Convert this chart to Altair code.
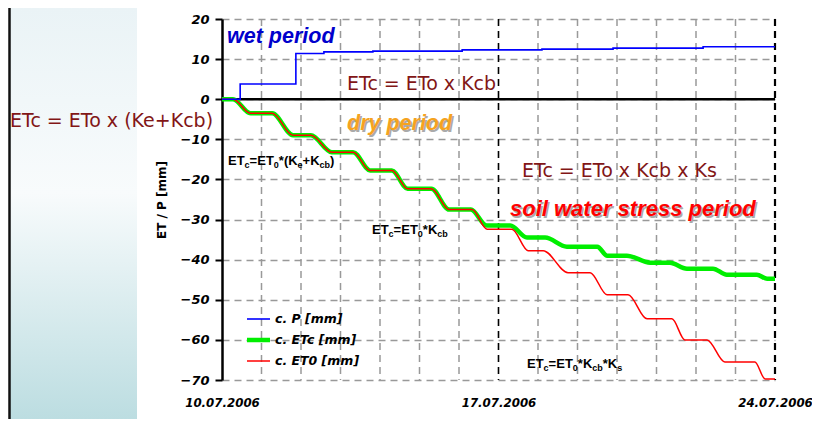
import altair as alt
import pandas as pd

# ---------------- data ----------------
# x = days since 10.07.2006
days_P = [0, 0.46, 1.87, 2.58, 3.82, 6.08, 8.1, 9.9, 12.18, 14]
vals_P = [0, 3.8, 11.4, 11.8, 12.0, 12.3, 12.5, 12.75, 13.1, 13.1]

days_ETc = [0, 0.28, 0.72, 1.27, 1.8, 2.25, 2.78, 3.32, 3.75, 4.3, 4.7, 5.3, 5.75, 6.3, 6.7,
            7.3, 7.72, 8.18, 8.73, 9.5, 9.75, 10.25, 10.84, 11.34, 11.77, 12.43, 12.78, 13.54, 13.8, 14]
vals_ETc = [0, 0, -3.5, -3.5, -9, -9, -13.2, -13.2, -17.75, -17.75, -22.3, -22.3, -27.5, -27.5, -31.5,
            -31.5, -34.5, -34.5, -36.75, -36.75, -39, -39, -40.75, -40.75, -42.25, -42.25, -43.75, -43.75, -44.75, -44.75]

days_ET0 = [0, 0.28, 0.72, 1.27, 1.8, 2.25, 2.78, 3.32, 3.75, 4.3, 4.7, 5.3, 5.75, 6.33, 6.71,
            7.34, 7.75, 8.13, 8.76, 9.32, 9.75, 10.28, 10.76, 11.39, 11.72, 12.28, 12.73, 13.49, 13.75, 14]
vals_ET0 = [0, 0, -3.5, -3.5, -9, -9, -13.2, -13.2, -17.75, -17.75, -22.3, -22.3, -27.5, -27.5, -32.4,
            -32.4, -37.75, -37.75, -43.25, -43.25, -48.75, -48.75, -54.75, -54.75, -60, -60, -65.5, -65.5, -69.75, -69.75]

series_names = ["c. P [mm]", "c. ETc [mm]", "c. ET0 [mm]"]
series_colors = ["#0000ff", "#00ee00", "#ff0000"]

x_grid_days = list(range(1, 14))
x_tick_days = [0, 7, 14]
x_tick_labels = ["10.07.2006", "17.07.2006", "24.07.2006"]
week_days = [7, 14]
y_ticks = [-70, -60, -50, -40, -30, -20, -10, 0, 10, 20]

W, H = 553, 361
BOLD_FONT = "Liberation Sans"
WIDE_FONT = "DejaVu Sans"
EQ_FONT = "DejaVu Sans"

df_P = pd.DataFrame({"day": days_P, "value": vals_P})
df_ETc = pd.DataFrame({"day": days_ETc, "value": vals_ETc})
df_ET0 = pd.DataFrame({"day": days_ET0, "value": vals_ET0})
df_grid = pd.DataFrame({"day": [d for d in x_grid_days if d not in week_days]})

label_expr = " : ".join(f"datum.value == {d} ? '{l}'" for d, l in zip(x_tick_days, x_tick_labels)) + " : ''"

x_enc = alt.X("day:Q", scale=alt.Scale(domain=[0, 14], nice=False, zero=False),
              axis=alt.Axis(values=x_tick_days, labelExpr=label_expr, grid=False, ticks=False, domain=False,
                            labelFont=WIDE_FONT, labelFontWeight="bold", labelFontStyle="italic",
                            labelFontSize=11.8, labelColor="black", labelPadding=17,
                            labelFlush=False, labelOverlap=False, labelBound=False, title=None))
y_enc = alt.Y("value:Q", scale=alt.Scale(domain=[-70, 20], nice=False, zero=False),
              axis=alt.Axis(values=y_ticks, grid=True, gridDash=[7, 5], gridColor="#999999",
                            gridWidth=1.5, domainColor="black", domainWidth=2.5, tickColor="black",
                            tickWidth=2, tickSize=7, labelFont=WIDE_FONT, labelFontWeight="bold",
                            labelFontStyle="italic", labelFontSize=13, labelColor="black",
                            labelPadding=6, title="ET / P [mm]", titleFont=WIDE_FONT,
                            titleFontWeight="bold", titleFontSize=12, titleColor="black",
                            titlePadding=12))

one = pd.DataFrame({"_": [0]})

# left decorative panel
grad = alt.LinearGradient(gradient="linear", x1=0, x2=0, y1=0, y2=1,
                          stops=[alt.GradientStop(color="#eaf3f6", offset=0),
                                 alt.GradientStop(color="#f8fbfc", offset=0.45),
                                 alt.GradientStop(color="#bcdde1", offset=1)])
panel = alt.Chart(one).mark_rect(color=grad).encode(
    x=alt.value(-212), x2=alt.value(-85), y=alt.value(-11), y2=alt.value(H + 39))
panel_line = alt.Chart(one).mark_rule(color="#111111", strokeWidth=2.5).encode(
    x=alt.value(-212.5), y=alt.value(-11), y2=alt.value(H + 39))

base_line = alt.Chart(df_ETc).mark_line(opacity=0).encode(x=x_enc, y=y_enc)

day_grid = alt.Chart(df_grid).mark_rule(color="#999999", strokeDash=[7, 5], strokeWidth=1.5).encode(x="day:Q")
zero_rule = alt.Chart(one).mark_rule(color="black", strokeWidth=2.5).encode(y=alt.datum(0))
week_rules = [alt.Chart(one).mark_rule(color="black", strokeDash=[7, 5], strokeWidth=1.6 if d == 7 else 2.2)
              .encode(x=alt.datum(d)) for d in week_days]

line_ETc = alt.Chart(df_ETc).mark_line(color=series_colors[1], strokeWidth=4.5, interpolate="monotone").encode(
    x="day:Q", y="value:Q")
line_ET0 = alt.Chart(df_ET0).mark_line(color=series_colors[2], strokeWidth=1.5, interpolate="monotone").encode(
    x="day:Q", y="value:Q")
line_P = alt.Chart(df_P).mark_line(color=series_colors[0], strokeWidth=1.6, interpolate="step-after").encode(
    x="day:Q", y="value:Q")


def txt(s, x, y, size, color, font=BOLD_FONT, weight="normal", style="normal", baseline="alphabetic"):
    return alt.Chart(one).mark_text(text=s, align="left", baseline=baseline, font=font,
                                    fontSize=size, fontWeight=weight, fontStyle=style,
                                    color=color).encode(x=alt.value(x), y=alt.value(y))


texts = []
texts.append(txt("wet period", 5, 24, 21.5, "#0000cc", weight="bold", style="italic"))
texts.append(txt("dry period", 126.5, 112.5, 21.5, "#aaaaaa", weight="bold", style="italic"))
texts.append(txt("dry period", 125, 111, 21.5, "#f5a31f", weight="bold", style="italic"))
texts.append(txt("soil water stress period", 289.5, 198.5, 22, "#aaaaaa", weight="bold", style="italic"))
texts.append(txt("soil water stress period", 288, 197, 22, "#ff0000", weight="bold", style="italic"))
EQ_COL = "#821616"
texts.append(txt("ETc = ETo x Kcb", 125, 71, 19, EQ_COL, font=EQ_FONT))
texts.append(txt("ETc = ETo x (Ke+Kcb)", -212, 108, 19, EQ_COL, font=EQ_FONT))
texts.append(txt("ETc = ETo x Kcb x Ks", 300, 158, 19, EQ_COL, font=EQ_FONT))

# formulas with subscripts (Arial-bold advance widths, per 1000 em)
ADV = {"E": 667, "T": 611, "c": 556, "=": 584, "0": 556, "*": 389, "(": 333, ")": 333,
       "K": 722, "e": 556, "+": 584, "b": 611, "s": 556}
MAIN, SUB = 13, 9


def formula(segments, x0, y0):
    out = []
    x = x0
    for s, sub in segments:
        size = SUB if sub else MAIN
        out.append(txt(s, x, y0 + (3 if sub else 0), size, "black", weight="bold"))
        x += sum(ADV[ch] for ch in s) / 1000 * size
    return out


texts += formula([("ET", 0), ("c", 1), ("=ET", 0), ("0", 1), ("*(K", 0), ("e", 1), ("+K", 0),
                  ("cb", 1), (")", 0)], 6, 146)
texts += formula([("ET", 0), ("c", 1), ("=ET", 0), ("0", 1), ("*K", 0), ("cb", 1)], 150, 215)
texts += formula([("ET", 0), ("c", 1), ("=ET", 0), ("0", 1), ("*K", 0), ("cb", 1), ("*K", 0),
                  ("s", 1)], 305, 349)

# legend
legend = []
widths = [1.6, 4.5, 1.5]
for i, (name, col) in enumerate(zip(series_names, series_colors)):
    yy = 300 + 21 * i
    legend.append(alt.Chart(one).mark_rule(color=col, strokeWidth=widths[i]).encode(
        x=alt.value(25), x2=alt.value(48), y=alt.value(yy)))
    legend.append(txt(name, 53, yy, 12.5, "black", font=WIDE_FONT, weight="bold", style="italic",
                      baseline="middle"))

chart = alt.layer(panel, panel_line, base_line, day_grid, zero_rule, *week_rules, line_ETc, line_ET0, line_P,
                  *texts, *legend).properties(
    width=W, height=H,
    padding={"left": 214, "top": 11, "right": 37, "bottom": 39},
    autosize=alt.AutoSizeParams(type="none"),
    background="white",
).configure_view(stroke=None)

chart.save("out.html", embed_options={"renderer": "svg", "actions": False})
